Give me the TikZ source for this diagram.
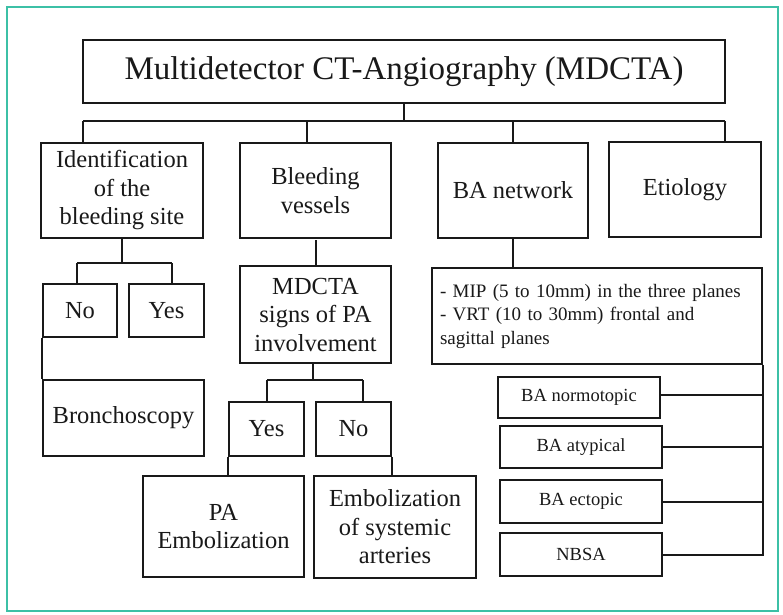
\documentclass[tikz,border=0pt]{standalone}
\usepackage{fontspec}
\setmainfont{Liberation Serif}
\definecolor{frameteal}{RGB}{60,192,166}
\definecolor{ink}{RGB}{25,25,25}
\begin{document}
\begin{tikzpicture}[x=1pt,y=-1pt,
  box/.style={draw=ink,line width=1.9pt,inner sep=0pt,align=center,text=ink,
    font=\fontsize{24.5}{28.5}\selectfont},
  small/.style={draw=ink,line width=1.9pt,inner sep=0pt,align=center,text=ink,
    font=\fontsize{18.5}{22}\selectfont},
  conn/.style={draw=ink,line width=2pt}]
\useasboundingbox (0,0) rectangle (783,614);
\fill[white] (0,0) rectangle (783,614);
\draw[frameteal,line width=2.5pt] (7,7) rectangle (778,611);

\node[box,minimum width=642,minimum height=63,font=\fontsize{33}{38}\selectfont] (title) at (404,71.5) {Multidetector CT-Angiography (MDCTA)};

\node[box,minimum width=162,minimum height=95] (ident) at (122,190.5) {Identification\\of the\\bleeding site};
\node[box,minimum width=151,minimum height=95] (bleed) at (315.5,190.5) {Bleeding\\vessels};
\node[box,minimum width=150,minimum height=95] (banet) at (513,190.5) {BA network};
\node[box,minimum width=152,minimum height=95] (etio) at (685,189.5) {Etiology};

\node[box,minimum width=74,minimum height=53] (noa) at (80,310.5) {No};
\node[box,minimum width=75,minimum height=53] (yesa) at (166.5,310.5) {Yes};
\node[box,minimum width=161,minimum height=76] (bronch) at (123.5,418) {Bronchoscopy};

\node[box,minimum width=151,minimum height=97] (mdcta) at (315.5,314.5) {MDCTA\\signs of PA\\involvement};
\node[box,minimum width=75,minimum height=54] (yesb) at (266.5,429) {Yes};
\node[box,minimum width=75,minimum height=54] (nob) at (353.5,429) {No};
\node[box,minimum width=161,minimum height=101] (pa) at (223.5,526.5) {PA\\Embolization};
\node[box,minimum width=162,minimum height=102] (emb) at (395,527) {Embolization\\of systemic\\arteries};

\node[box,minimum height=96,text width=314,inner xsep=8pt,align=left,
  font=\fontsize{19}{23.5}\selectfont] (mip) at (597,316)
  {- MIP (5 to 10mm) in the three planes\\- VRT (10 to 30mm) frontal and\\sagittal planes};

\node[small,minimum width=162,minimum height=41] (norm) at (579,397.5) {BA normotopic};
\node[small,minimum width=162,minimum height=42] (atyp) at (581,447) {BA atypical};
\node[small,minimum width=162,minimum height=43] (ect) at (581,501.5) {BA ectopic};
\node[small,minimum width=162,minimum height=43] (nbsa) at (581,554.5) {NBSA};

% top bus
\coordinate (busL) at (83,121);
\coordinate (busR) at (725,121);
\coordinate (busB) at (307,121);
\draw[conn] (title.south) -- (title.south |- busL);
\draw[conn] (busL) -- (busR);
\draw[conn] (busL) -- (busL |- ident.north);
\draw[conn] (busB) -- (busB |- bleed.north);
\draw[conn] (banet.north) -- (banet.north |- busL);
\draw[conn] (busR) -- (busR |- etio.north);

% identification branch
\coordinate (s1) at (123,263);
\coordinate (s1L) at (77,263);
\coordinate (s1R) at (172,263);
\draw[conn] (ident.south) -- (ident.south |- s1);
\draw[conn] (s1L) -- (s1R);
\draw[conn] (s1L) -- (s1L |- noa.north);
\draw[conn] (s1R) -- (s1R |- yesa.north);
\draw[conn] (noa.south west) -- (bronch.north west);

% bleeding vessels branch
\coordinate (bv) at (316,240);
\draw[conn] (bv) -- (bv |- mdcta.north);
\coordinate (s2) at (313,380);
\coordinate (s2L) at (267,380);
\coordinate (s2R) at (363,380);
\draw[conn] (mdcta.south -| s2) -- (s2);
\draw[conn] (s2L) -- (s2R);
\draw[conn] (s2L) -- (s2L |- yesb.north);
\draw[conn] (s2R) -- (s2R |- nob.north);
\draw[conn] (yesb.south west) -- (yesb.south west |- pa.north);
\draw[conn] (nob.south east) -- (nob.south east |- emb.north);

% BA network branch
\draw[conn] (banet.south) -- (banet.south |- mip.north);
\draw[conn] (mip.south east) -- (mip.south east |- nbsa.east) -- (nbsa.east);
\draw[conn] ([yshift=3pt]norm.east) -- ([yshift=3pt]norm.east -| mip.south east);
\draw[conn] (atyp.east) -- (atyp.east -| mip.south east);
\draw[conn] (ect.east) -- (ect.east -| mip.south east);
\end{tikzpicture}
\end{document}
